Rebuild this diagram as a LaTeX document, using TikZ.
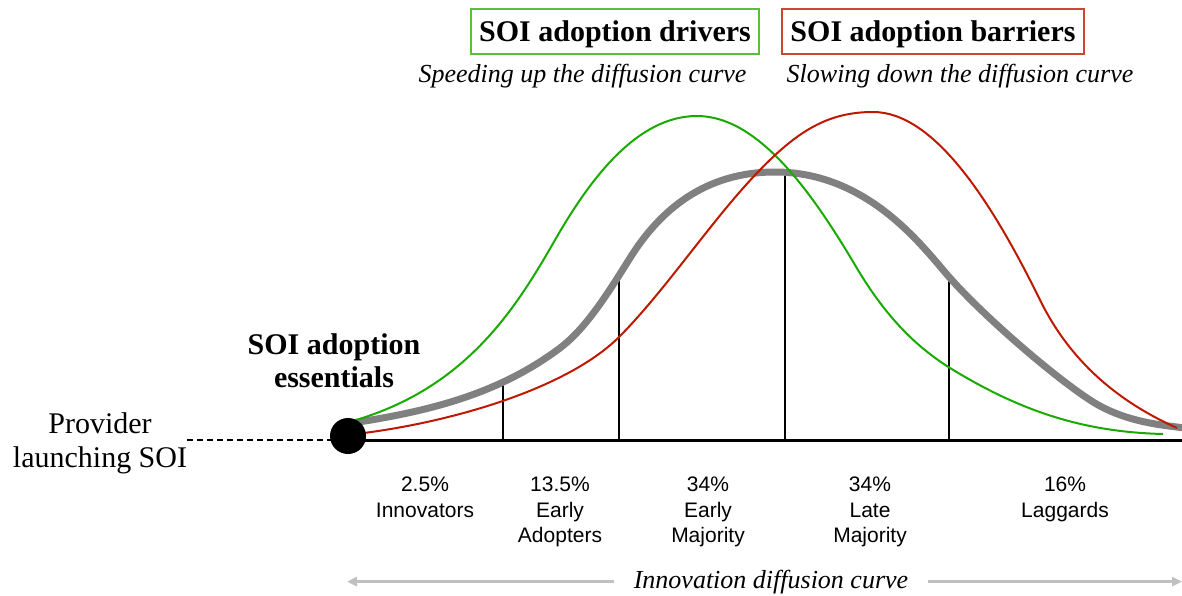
\documentclass[tikz,border=0pt]{standalone}
\usepackage{fontspec}
\setmainfont{Liberation Serif}
\newfontfamily\labelfont{Liberation Sans}
\usetikzlibrary{arrows.meta}
\definecolor{drivergreen}{RGB}{25,170,0}
\definecolor{barrierred}{RGB}{190,25,0}
\definecolor{greenbox}{RGB}{90,190,60}
\definecolor{redbox}{RGB}{205,70,50}
\definecolor{curvegray}{RGB}{128,128,128}
\definecolor{spangray}{RGB}{192,192,192}
\tikzset{
  titlebox/.style={line width=1.5pt, font=\fontsize{30}{33}\selectfont\bfseries, minimum height=45pt, text depth=0pt},
  subtitle/.style={font=\fontsize{26}{30}\selectfont\itshape, anchor=base},
  share/.style={font=\labelfont\fontsize{21}{25.5}\selectfont, align=center, anchor=north, inner sep=0pt},
  divider/.style={line width=2.5pt},
  adoptcurve/.style={curvegray, line width=7pt, line cap=round},
  drivercurve/.style={drivergreen, line width=2pt},
  barriercurve/.style={barrierred, line width=2pt},
  spanarrow/.style={spangray, line width=3pt, -{Triangle[length=10pt,width=9pt]}}
}
\begin{document}
\begin{tikzpicture}[x=1pt,y=-1pt]
\useasboundingbox (0,0) rectangle (1182,595);
\node[titlebox, draw=greenbox, minimum width=288pt] (drivers) at (615,31.5) {SOI adoption drivers};
\node[titlebox, draw=redbox, minimum width=302pt] (barriers) at (933,31.5) {SOI adoption barriers};
\node[subtitle] (speeding) at (582.5,82) {Speeding up the diffusion curve};
\node[subtitle] (slowing) at (960,82) {Slowing down the diffusion curve};

\coordinate (axisleft) at (348,440); \coordinate (axisright) at (1182,440);
\foreach \x/\h in {503/382, 619/277, 785/173, 949/278}
  \draw[divider] (\x,440) -- (\x,\h);
% adoption curve and the two shifted curves
\draw[adoptcurve] (352,423) .. controls (432,411) and (500,393) .. (560,348)
  .. controls (585,329) and (605,298) .. (630,258)
  .. controls (660,210) and (705,172) .. (775,172)
  .. controls (870,172) and (925,250) .. (950,278)
  .. controls (990,323) and (1070,390) .. (1100,406)
  .. controls (1130,422) and (1160,425) .. (1185,428);
\draw[drivercurve] (356,420) .. controls (466,387) and (515,310) .. (555,240)
  .. controls (590,179) and (637,116) .. (697,116)
  .. controls (757,116) and (810,189) .. (855,265)
  .. controls (885,316) and (915,346) .. (950,368)
  .. controls (1020,411) and (1083,432) .. (1163,434);
\draw[barriercurve] (356,434) .. controls (456,422) and (569,387) .. (619,337)
  .. controls (665,291) and (711,221) .. (757,173)
  .. controls (797,131) and (828,112) .. (873,112)
  .. controls (933,112) and (990,198) .. (1040,300)
  .. controls (1070,361) and (1117,401) .. (1177,428);
\draw[line width=3pt] (axisleft) -- (axisright);

\node[align=center, anchor=north, inner sep=0pt, font=\fontsize{30}{34}\selectfont] (provider) at (100,412.7) {Provider\\launching SOI};
\draw[line width=2pt, dash pattern=on 6pt off 4pt] (provider.east |- axisleft) -- (axisleft);
\node[circle, fill, minimum size=36pt, inner sep=0pt] (launch) at (348,436) {};
\node[align=center, anchor=north, inner sep=0pt, font=\fontsize{30}{33}\selectfont\bfseries] (essentials) at (334,333.6) {SOI adoption\\essentials};

\node[share] (innovators) at (425,477) {2.5\%\\Innovators};
\node[share] (adopters) at (560,477) {13.5\%\\Early\\Adopters};
\node[share] (earlymajority) at (708,477) {34\%\\Early\\Majority};
\node[share] (latemajority) at (870,477) {34\%\\Late\\Majority};
\node[share] (laggards) at (1065,477) {16\%\\Laggards};

\node[subtitle, inner xsep=20pt] (diffusion) at (771,588) {Innovation diffusion curve};
\coordinate (leftedge) at (347,0); \coordinate (rightedge) at (1182,0);
\draw[spanarrow] (diffusion.west) -- (diffusion.west -| leftedge);
\draw[spanarrow] (diffusion.east) -- (diffusion.east -| rightedge);
\end{tikzpicture}
\end{document}
